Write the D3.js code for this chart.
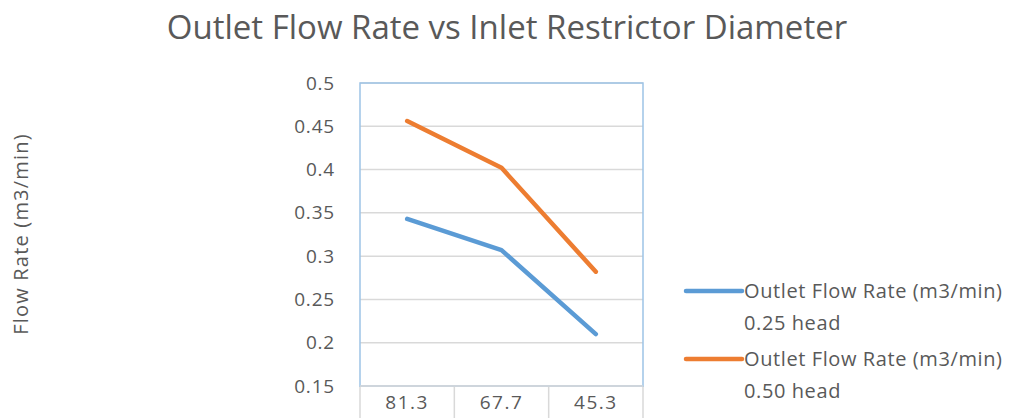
<!DOCTYPE html>
<html>
<head>
<meta charset="utf-8">
<script src="https://cdn.jsdelivr.net/npm/d3@7"></script>
<style>
  html, body { margin: 0; padding: 0; background: #fff; }
  svg { display: block; }
  text { font-family: "Open Sans", Lato, sans-serif; fill: #595959; }
</style>
</head>
<body>
<svg id="chart" width="1014" height="418"></svg>
<script>
// Inlet restrictor diameters (categories) and outlet flow rates per head
const categories = ["81.3", "67.7", "45.3"];
const head025 = [0.343, 0.307, 0.210];
const head050 = [0.456, 0.402, 0.282];
const yTicks = [0.15, 0.2, 0.25, 0.3, 0.35, 0.4, 0.45, 0.5];
const seriesNames = ["Outlet Flow Rate (m3/min)", "Outlet Flow Rate (m3/min)"];
const seriesSub = ["0.25 head", "0.50 head"];
const seriesColors = ["#5B9BD5", "#ED7D31"];

const svg = d3.select("#chart");
const plot = { left: 360, right: 643, top: 83, bottom: 386 };

const x = d3.scaleBand().domain(categories).range([plot.left, plot.right]);
const y = d3.scaleLinear().domain([0.15, 0.5]).range([plot.bottom, plot.top]);

// Title
svg.append("text")
  .attr("x", 507).attr("y", 39)
  .attr("text-anchor", "middle")
  .style("font-size", "33px")
  .text("Outlet Flow Rate vs Inlet Restrictor Diameter");

// Horizontal gridlines
svg.append("g").selectAll("line").data(yTicks).join("line")
  .attr("x1", plot.left).attr("x2", plot.right)
  .attr("y1", d => y(d)).attr("y2", d => y(d))
  .attr("stroke", "#d9d9d9").attr("stroke-width", 1.5);

// Category divider lines extending below the plot
const edges = categories.map(c => x(c)).concat([plot.right]);
svg.append("g").selectAll("line").data(edges).join("line")
  .attr("x1", d => d).attr("x2", d => d)
  .attr("y1", plot.bottom).attr("y2", 418)
  .attr("stroke", "#d9d9d9").attr("stroke-width", 1.5);

// Plot frame
svg.append("rect")
  .attr("x", plot.left).attr("y", plot.top)
  .attr("width", plot.right - plot.left).attr("height", plot.bottom - plot.top)
  .attr("fill", "none").attr("stroke", "#9DC3E6").attr("stroke-width", 1.5);
svg.append("line")
  .attr("x1", plot.left).attr("x2", plot.right)
  .attr("y1", plot.bottom).attr("y2", plot.bottom)
  .attr("stroke", "#d9d9d9").attr("stroke-width", 1.5);

// Y axis labels
const yAxis = d3.axisLeft(y).tickValues(yTicks).tickSize(0).tickPadding(25)
  .tickFormat(d3.format("~g"));
const gy = svg.append("g").attr("transform", `translate(${plot.left},0)`).call(yAxis);
gy.select(".domain").remove();
gy.selectAll("text").style("font-size", "19px").style("letter-spacing", "0.8px")
  .attr("fill", "#595959")
  .style("font-family", "'Open Sans', Lato, sans-serif");

// Category labels
const xAxis = d3.axisBottom(x).tickSize(0).tickPadding(10);
const gx = svg.append("g").attr("transform", `translate(0,${plot.bottom})`).call(xAxis);
gx.select(".domain").remove();
gx.selectAll("text").style("font-size", "19px").style("letter-spacing", "1.5px")
  .attr("fill", "#595959")
  .style("font-family", "'Open Sans', Lato, sans-serif");

// Y axis title
svg.append("text")
  .attr("transform", "translate(28,234) rotate(-90)")
  .attr("text-anchor", "middle")
  .style("font-size", "20px")
  .style("letter-spacing", "1.2px")
  .text("Flow Rate (m3/min)");

// Series lines
const line = d3.line()
  .x((d, i) => x(categories[i]) + x.bandwidth() / 2)
  .y(d => y(d));
[head025, head050].forEach((s, i) => {
  svg.append("path").datum(s)
    .attr("d", line)
    .attr("fill", "none")
    .attr("stroke", seriesColors[i])
    .attr("stroke-width", 4.5)
    .attr("stroke-linecap", "round")
    .attr("stroke-linejoin", "round");
});

// Legend
const legendY = [291, 359];
seriesNames.forEach((name, i) => {
  const g = svg.append("g").attr("transform", `translate(686,${legendY[i]})`);
  g.append("line").attr("x1", 0).attr("x2", 56).attr("y1", 0).attr("y2", 0)
    .attr("stroke", seriesColors[i]).attr("stroke-width", 4.5).attr("stroke-linecap", "round");
  g.append("text").attr("x", 58).attr("y", 7).style("font-size", "20px")
    .style("letter-spacing", "0.6px").text(name);
  g.append("text").attr("x", 58).attr("y", 39).style("font-size", "20px")
    .style("letter-spacing", "0.6px").text(seriesSub[i]);
});
</script>
</body>
</html>
